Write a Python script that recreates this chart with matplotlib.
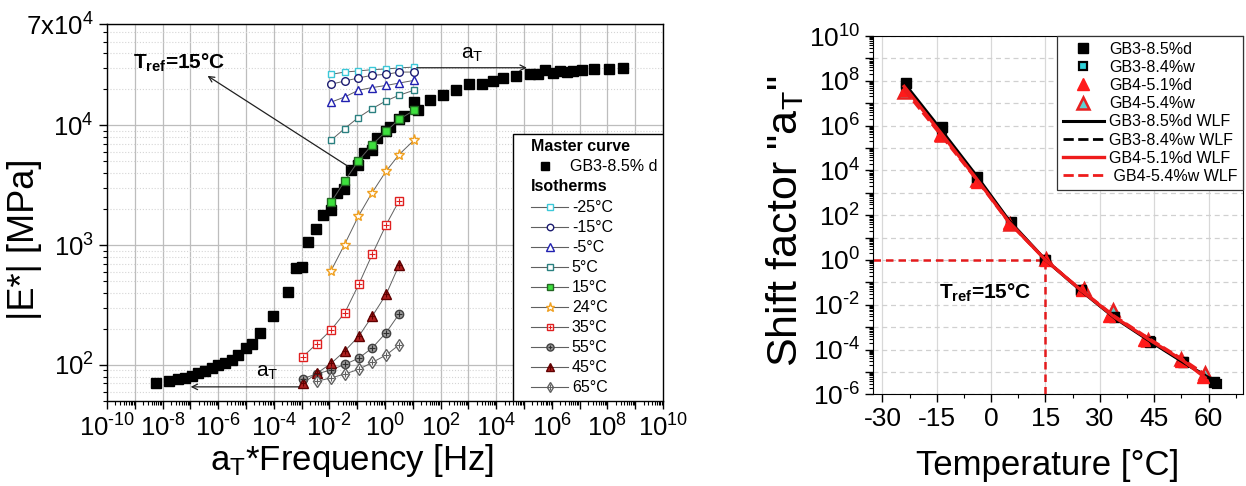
import numpy as np
import matplotlib
matplotlib.use('Agg')
import matplotlib.pyplot as plt
from matplotlib.patches import Rectangle
from matplotlib.ticker import FixedLocator, FuncFormatter, LogLocator, MultipleLocator, NullFormatter

plt.rcParams['font.family'] = ['Liberation Sans', 'DejaVu Sans']
plt.rcParams['mathtext.fontset'] = 'custom'
plt.rcParams['mathtext.rm'] = 'Liberation Sans'
plt.rcParams['mathtext.it'] = 'Liberation Sans:italic'
plt.rcParams['mathtext.bf'] = 'Liberation Sans:bold'
plt.rcParams['axes.unicode_minus'] = False

# ---- master curve (left) ----
master_freq = [5.8e-9, 1.7e-8, 3.7e-8, 6.5e-8, 1.1e-7, 1.9e-7, 3.4e-7, 5.9e-7, 1.0e-6, 1.7e-6,
               3.1e-6, 5.2e-6, 9.8e-6, 1.7e-5, 3.2e-5, 9.5e-5, 3.3e-4, 6.3e-4, 1.0e-3, 1.7e-3,
               3.3e-3, 6.0e-3, 1.15e-2, 1.8e-2, 3.4e-2, 5.9e-2, 0.11, 0.18, 0.34, 0.5,
               1.1, 1.5, 3.2, 4.8, 11, 16, 42, 120, 355, 1050,
               3200, 7900, 1.8e4, 5.1e4, 1.7e5, 3.2e5, 5.8e5, 1.1e6, 1.9e6, 3.4e6,
               5.9e6, 1.2e7, 3.4e7, 1.1e8, 3.5e8]
master_mod = [70, 74, 76, 78, 81, 85, 89, 94, 99, 103,
              110, 121, 138, 150, 184, 258, 405, 650, 660, 1060,
              1350, 1780, 1950, 2730, 2960, 4220, 4640, 5900, 6170, 7770,
              8900, 9680, 11200, 11900, 15600, 13300, 16200, 17800, 19800, 22300,
              22300, 23500, 24600, 25700, 27000, 26600, 28700, 27500, 28200, 27700,
              28200, 28700, 29400, 29700, 30200]

# isotherms
freq_cold = [0.0115, 0.035, 0.11, 0.33, 1.1, 3.2, 11]
freq_hot = [0.0011, 0.0035, 0.0115, 0.036, 0.115, 0.35, 1.1, 3.2]
iso_labels = ['-25°C', '-15°C', '-5°C', '5°C', '15°C', '24°C', '35°C', '55°C', '45°C', '65°C']
iso_m25 = [26600, 27800, 28400, 29100, 29500, 30100, 30600]
iso_m15 = [22000, 23400, 24800, 26100, 26600, 27800, 27800]
iso_m5 = [15600, 17200, 19600, 20600, 21500, 22500, 23700]
iso_p5 = [7500, 9380, 11600, 13700, 16000, 17800, 19600]
iso_p15 = [2280, 3410, 5040, 6810, 8910, 11200, 13300]
iso_p24 = [613, 1010, 1740, 2700, 4150, 5700, 7500]
iso_p35 = [117, 150, 196, 273, 473, 841, 1480, 2340]
iso_p55 = [77, 84, 91, 101, 114, 139, 186, 266]
iso_p45 = [70, 85, 103, 131, 174, 256, 388, 680]
iso_p65 = [73, 78, 84, 92, 105, 121, 147]
iso_freqs = [freq_cold] * 6 + [freq_hot, freq_hot, freq_hot, freq_hot[1:]]
iso_vals = [iso_m25, iso_m15, iso_m5, iso_p5, iso_p15, iso_p24, iso_p35, iso_p55, iso_p45, iso_p65]

# marker styles for the isotherms (marker, edge, face, cross colour)
iso_styles = [
    dict(marker='s', mec='#3cc8d8', mfc='white', cross=None, ms=5),
    dict(marker='o', mec='#1c1c70', mfc='white', cross=None, ms=5.5),
    dict(marker='^', mec='#2020b0', mfc='white', cross=None, ms=6),
    dict(marker='s', mec='#2a8080', mfc='white', cross=None, ms=5),
    dict(marker='s', mec='#226622', mfc='#3ee03e', cross=None, ms=5.5),
    dict(marker='*', mec='#f0a020', mfc='white', cross=None, ms=8),
    dict(marker='s', mec='#e02020', mfc='white', cross='#e02020', ms=5.5),
    dict(marker='o', mec='#404040', mfc='#9a9a9a', cross='#303030', ms=6),
    dict(marker='^', mec='#600000', mfc='#b02020', cross='#600000', ms=7),
    dict(marker='d', mec='#606060', mfc='white', cross='#606060', ms=6.5),
]

# ---- shift factors (right) ----
T_gb3d = [-23.5, -13.5, -4.0, 5.4, 14.8, 24.8, 34.0, 43.7, 52.9, 61.5]
la_gb3d = [7.89, 5.92, 3.72, 1.71, 0.0, -1.34, -2.56, -3.65, -4.58, -5.43]
T_gb3w = [-23.5, -13.5, -4.0, 5.4, 14.8, 24.8, 34.0, 43.7, 52.9, 62.2]
la_gb3w = [7.7, 5.7, 3.6, 1.65, 0.0, -1.35, -2.55, -3.62, -4.55, -5.54]
T_gb4d = [-23.7, -14.0, -3.85, 4.9, 15.1, 25.2, 32.6, 42.3, 52.5, 58.5]
la_gb4d = [7.59, 5.58, 3.5, 1.64, 0.0, -1.34, -2.5, -3.57, -4.5, -5.21]
T_gb4w = [-24.0, -13.5, -3.8, 5.2, 15.1, 25.5, 33.5, 43.2, 52.5, 58.9]
la_gb4w = [7.5, 5.6, 3.55, 1.62, 0.05, -1.28, -2.23, -3.57, -4.43, -5.06]

T_wlf3 = [-24, -14, -4, 5, 15, 25, 34, 44, 53, 62]
wlf_gb3d = [7.9, 5.85, 3.75, 1.75, 0.0, -1.4, -2.58, -3.65, -4.57, -5.45]
wlf_gb3w = [7.75, 5.75, 3.68, 1.7, 0.0, -1.38, -2.55, -3.62, -4.55, -5.5]
T_wlf4 = [-24, -14, -4, 5, 15, 25, 34, 44, 53, 59]
wlf_gb4d = [7.75, 5.7, 3.62, 1.68, 0.0, -1.38, -2.55, -3.6, -4.5, -5.25]
wlf_gb4w = [7.6, 5.6, 3.58, 1.65, 0.0, -1.36, -2.5, -3.55, -4.45, -5.1]
T_ref = 15

fig = plt.figure(figsize=(12.46, 4.86), dpi=100)


def pow_label(v, pos):
    e = int(round(np.log10(v)))
    if e % 2:
        return ''
    return r'$\mathregular{10^{%s}}$' % str(e).replace('-', '\u2010')


def draw_iso(ax, x, y, st):
    ax.plot(x, y, ls='-', color='#606060', lw=0.7,
            marker=st['marker'], ms=st['ms'], mec=st['mec'], mfc=st['mfc'], mew=1.0, zorder=7)
    if st['cross']:
        ax.plot(x, y, ls='none', marker='+', ms=st['ms'] * 0.7, mec=st['cross'], mew=0.8, zorder=8)


# ================= left plot =================
ax1 = fig.add_axes([0.0859, 0.1749, 0.4462, 0.7757])
ax1.set_xscale('log')
ax1.set_yscale('log')
ax1.set_axisbelow(True)

ax1.plot(master_freq, master_mod, 's', color='black', ms=7.5, zorder=4)
for f, v, st in zip(iso_freqs, iso_vals, iso_styles):
    draw_iso(ax1, f, v, st)

# annotations
ax1.annotate('', xy=(3.4e-7, 2.66e4), xytext=(5.8e-2, 4400),
             arrowprops=dict(arrowstyle='->', color='#202020', lw=0.9), zorder=9)
ax1.text(8.5e-10, 3.35e4, r'$\mathbf{T_{ref}}$=15°C', fontsize=15, fontweight='bold',
         ha='left', va='center')
ax1.annotate('', xy=(1.6e5, 3.02e4), xytext=(11, 3.02e4),
             arrowprops=dict(arrowstyle='->', color='#202020', lw=0.9), zorder=9)
ax1.text(1.35e3, 3.9e4, r'a$_\mathregular{T}$', fontsize=15, ha='center', va='center')
ax1.annotate('', xy=(8.1e-8, 65.6), xytext=(1.0e-3, 65.6),
             arrowprops=dict(arrowstyle='->', color='#202020', lw=0.9), zorder=9)
ax1.text(5.8e-5, 86, r'a$_\mathregular{T}$', fontsize=15, ha='center', va='center')

ax1.set_xlim(1e-10, 1e10)
ax1.set_ylim(50, 7e4)
ax1.xaxis.set_major_locator(FixedLocator([10.0 ** k for k in range(-10, 11)]))
ax1.xaxis.set_major_formatter(FuncFormatter(pow_label))
ax1.xaxis.set_minor_locator(LogLocator(base=10, subs=np.arange(2, 10), numticks=60))
ax1.xaxis.set_minor_formatter(NullFormatter())
ax1.yaxis.set_major_locator(FixedLocator([1e2, 1e3, 1e4, 7e4]))
ax1.set_yticklabels([r'$\mathregular{10^{2}}$', r'$\mathregular{10^{3}}$',
                     r'$\mathregular{10^{4}}$', r'7x$\mathregular{10^{4}}$'])
ax1.yaxis.set_minor_locator(LogLocator(base=10, subs=np.arange(2, 10), numticks=60))
ax1.yaxis.set_minor_formatter(NullFormatter())
ax1.tick_params(which='both', direction='out', top=False, right=False, labelsize=18.5)
ax1.tick_params(which='major', length=6, width=1)
ax1.tick_params(which='minor', length=3, width=0.8)
ax1.grid(which='major', axis='both', color='#bdbdbd', lw=0.9)
ax1.grid(which='minor', axis='y', color='#d5d5d5', lw=0.8, ls=':')
for sp in ax1.spines.values():
    sp.set_linewidth(1.0)

# legend box drawn by hand (two bold headings)
tA = ax1.transAxes
ax1.add_patch(Rectangle((0.730, 0.0), 0.270, 0.708, transform=tA, facecolor='white',
                        edgecolor='black', lw=1.0, zorder=10))
ax1.text(0.763, 0.676, 'Master curve', transform=tA, fontsize=11.5, fontweight='bold',
         va='center', zorder=11)
ax1.plot([0.788], [0.623], 's', color='black', ms=6, transform=tA, zorder=11, clip_on=False)
ax1.text(0.833, 0.623, 'GB3-8.5% d', transform=tA, fontsize=11.5, va='center', zorder=11)
ax1.text(0.763, 0.570, 'Isotherms', transform=tA, fontsize=11.5, fontweight='bold',
         va='center', zorder=11)
for i, (lab, st) in enumerate(zip(iso_labels, iso_styles)):
    yy = 0.514 - i * 0.0531
    ax1.plot([0.763, 0.829], [yy, yy], color='#606060', lw=0.8, transform=tA, zorder=11, clip_on=False)
    ms = st['ms'] * 0.85
    ax1.plot([0.796], [yy], ls='none', marker=st['marker'], ms=ms, mec=st['mec'],
             mfc=st['mfc'], mew=1.0, transform=tA, zorder=12, clip_on=False)
    if st['cross']:
        ax1.plot([0.796], [yy], ls='none', marker='+', ms=ms * 0.7, mec=st['cross'],
                 mew=0.8, transform=tA, zorder=13, clip_on=False)
    ax1.text(0.836, yy, lab, transform=tA, fontsize=11.5, va='center', zorder=11)

fig.text(24 / 1246, 1 - 239 / 486, '|E*| [MPa]', rotation=90, ha='center', va='center', fontsize=26)
fig.text(352 / 1246, 1 - 470 / 486, r'a$_\mathregular{T}$*Frequency [Hz]', ha='center',
         va='baseline', fontsize=25)

# ================= right plot =================
ax2 = fig.add_axes([0.7009, 0.1887, 0.2967, 0.7372])
ax2.set_yscale('log')
ax2.set_axisbelow(True)

xl = (-32.5, 69.5)
ax2.plot([xl[0], T_ref], [1, 1], ls=(0, (3, 2)), color='#e41a1c', lw=1.8, zorder=2)
ax2.plot([T_ref, T_ref], [1e-6, 1], ls=(0, (3, 2)), color='#e41a1c', lw=1.8, zorder=2)

h_w3 = ax2.plot(T_gb3w, 10.0 ** np.array(la_gb3w), 's', mfc='#30d0d8', mec='black', mew=1.6,
                ms=6, zorder=3)[0]
h_d3 = ax2.plot(T_gb3d, 10.0 ** np.array(la_gb3d), 's', color='black', ms=7.5, zorder=4)[0]
h_w4 = ax2.plot(T_gb4w, 10.0 ** np.array(la_gb4w), '^', mfc='#60d0d0', mec='#e82020', mew=1.8,
                ms=8, zorder=3)[0]
h_d4 = ax2.plot(T_gb4d, 10.0 ** np.array(la_gb4d), '^', color='#ff1a1a', ms=8, zorder=4)[0]
l_d3 = ax2.plot(T_wlf3, 10.0 ** np.array(wlf_gb3d), '-', color='black', lw=2.2, zorder=5)[0]
l_w3 = ax2.plot(T_wlf3, 10.0 ** np.array(wlf_gb3w), '--', color='black', lw=2.0, zorder=5)[0]
l_w4 = ax2.plot(T_wlf4, 10.0 ** np.array(wlf_gb4w), '--', color='#ee1c1c', lw=2.0, zorder=6)[0]
l_d4 = ax2.plot(T_wlf4, 10.0 ** np.array(wlf_gb4d), '-', color='#ee1c1c', lw=2.4, zorder=7)[0]

ax2.text(-14.3, 10 ** -1.45, r'$\mathbf{T_{ref}}$=15°C', fontsize=15, fontweight='bold',
         ha='left', va='center')

ax2.set_xlim(*xl)
ax2.set_ylim(1e-6, 1e10)
ax2.xaxis.set_major_locator(MultipleLocator(15))
ax2.xaxis.set_major_formatter(FuncFormatter(lambda v, p: '%d' % round(v)))
ax2.xaxis.set_minor_locator(MultipleLocator(7.5))
ax2.yaxis.set_major_locator(FixedLocator([10.0 ** k for k in range(-6, 11)]))
ax2.yaxis.set_major_formatter(FuncFormatter(pow_label))
ax2.yaxis.set_minor_locator(LogLocator(base=10, subs=np.arange(2, 10), numticks=60))
ax2.yaxis.set_minor_formatter(NullFormatter())
ax2.tick_params(which='both', direction='out', top=False, right=False, labelsize=19)
ax2.tick_params(which='major', length=6, width=1)
ax2.tick_params(which='minor', length=3, width=0.8)
ax2.grid(which='major', axis='x', color='#d8d8d8', lw=0.9)
ax2.grid(which='major', axis='y', color='#d0d0d0', lw=0.9, ls=(0, (4, 3)))

leg = ax2.legend([h_d3, h_w3, h_d4, h_w4, l_d3, l_w3, l_d4, l_w4],
                 ['GB3-8.5%d', 'GB3-8.4%w', 'GB4-5.1%d', 'GB4-5.4%w',
                  'GB3-8.5%d WLF', 'GB3-8.4%w WLF', 'GB4-5.1%d WLF', ' GB4-5.4%w WLF'],
                 loc='upper right', borderaxespad=0, fontsize=11.5, handlelength=2.6,
                 handletextpad=0.3, labelspacing=0.2, fancybox=False, edgecolor='#333333',
                 framealpha=1, borderpad=0.35, numpoints=1)
leg.get_frame().set_linewidth(0.9)
leg.set_zorder(12)

fig.text(785 / 1246, 1 - 221 / 486, r'Shift factor "a$_\mathregular{T}$"', rotation=90,
         ha='center', va='center', fontsize=31)
fig.text(1048 / 1246, 1 - 475 / 486, 'Temperature [°C]', ha='center', va='baseline', fontsize=25)

fig.savefig('out.png', dpi=100, facecolor='white')
